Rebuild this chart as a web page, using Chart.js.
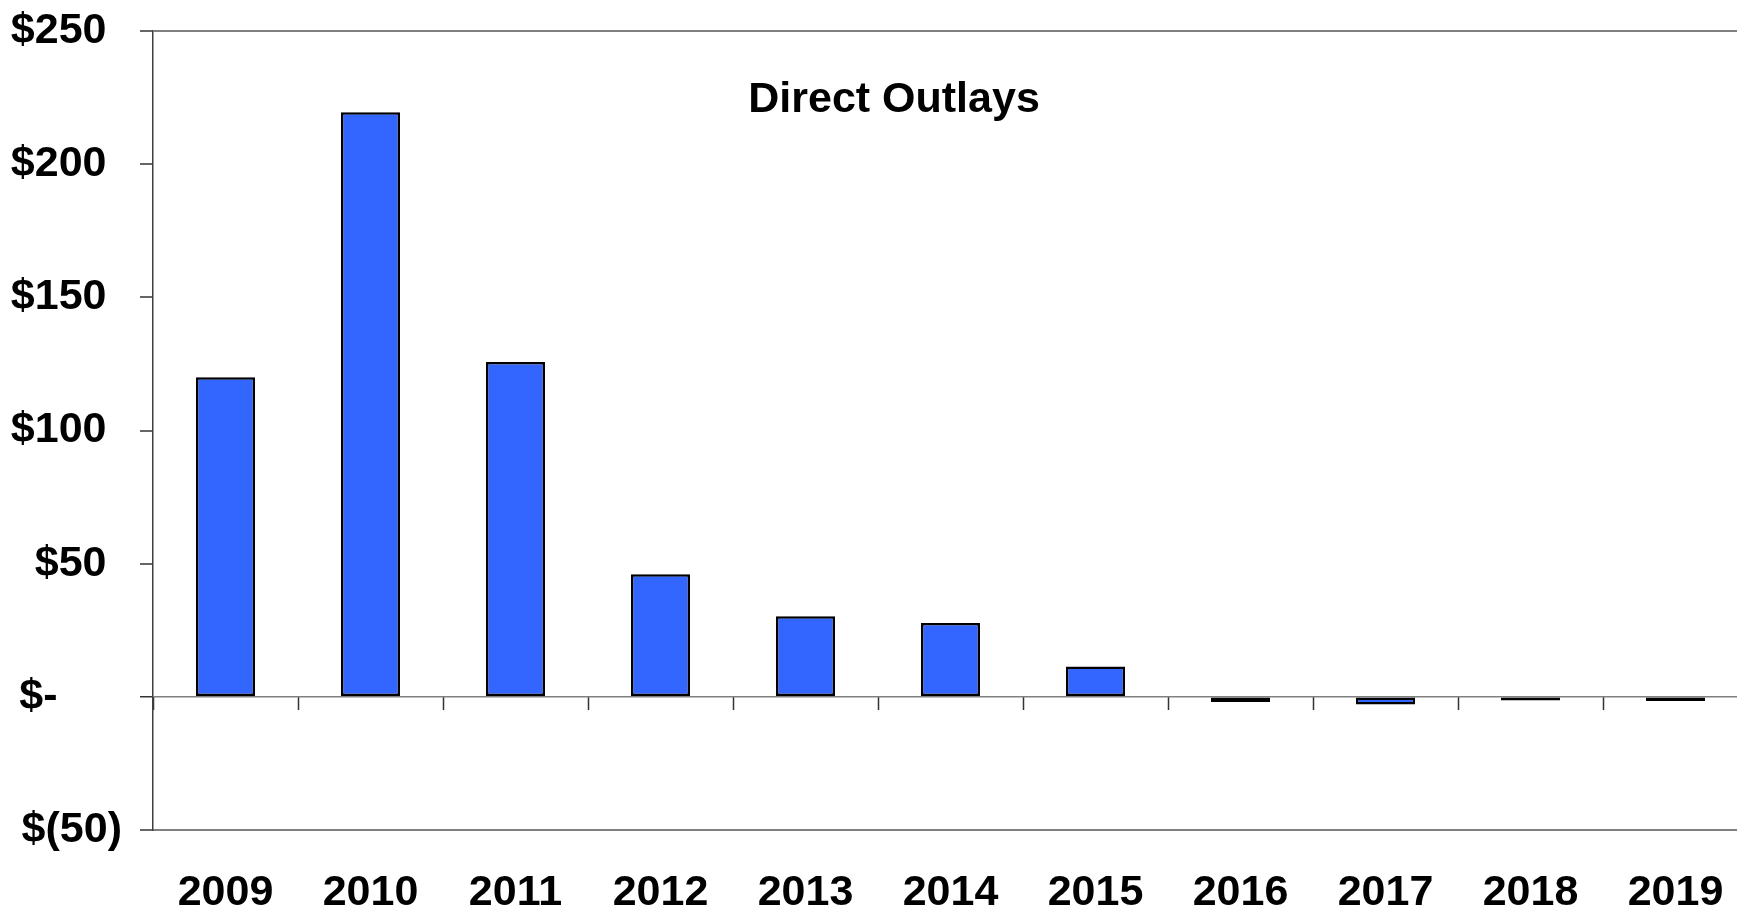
<!DOCTYPE html>
<html>
<head>
<meta charset="utf-8">
<script src="https://cdn.jsdelivr.net/npm/chart.js@4/dist/chart.umd.min.js"></script>
<style>
  html, body { margin: 0; padding: 0; background: #ffffff; overflow: hidden; }
  #wrap { width: 1760px; height: 908px; }
</style>
</head>
<body>
<div id="wrap"><canvas id="c" width="1760" height="908"></canvas></div>
<script>
// ---- data ----
const years = ['2009', '2010', '2011', '2012', '2013', '2014', '2015', '2016', '2017', '2018', '2019'];
const outlays = [120, 219.5, 125.7, 46, 30.3, 27.7, 11.4, -1.9, -2.9, -1.4, -1.6];
const yTickValues = [-50, 0, 50, 100, 150, 200, 250];
const yTickLabels = ['$(50)', '$-\u2002\u2002\u2002', '$50 \u200A', '$100 \u200A', '$150 \u200A', '$200 \u200A', '$250 \u200A'];
const chartTitle = 'Direct Outlays';
// ---------------

const FONT = '"Liberation Sans", Arial, Helvetica, sans-serif';
const FSIZE = 43;
Chart.defaults.font.family = FONT;

const titlePlugin = {
  id: 'insideTitle',
  afterDraw(chart) {
    const a = chart.chartArea;
    const ctx = chart.ctx;
    ctx.save();
    ctx.font = 'bold ' + FSIZE + 'px ' + FONT;
    ctx.fillStyle = '#000';
    ctx.textAlign = 'center';
    ctx.textBaseline = 'middle';
    ctx.fillText(chartTitle, a.left + 0.4646 * (a.right - a.left), a.top + 69);
    ctx.restore();
  }
};

const specialLines = [250, 0, -50];

new Chart(document.getElementById('c'), {
  type: 'bar',
  data: {
    labels: years,
    datasets: [{
      label: chartTitle,
      data: outlays,
      xAxisID: 'x',
      yAxisID: 'y',
      backgroundColor: '#3366FF',
      borderColor: '#000000',
      borderWidth: 2.5,
      borderSkipped: false,
      categoryPercentage: 1.0,
      barPercentage: 0.407
    }]
  },
  options: {
    responsive: false,
    animation: false,
    devicePixelRatio: 1,
    layout: { padding: { top: 31, right: 12, left: 0, bottom: 0 } },
    plugins: {
      legend: { display: false },
      title: { display: false },
      tooltip: { enabled: false }
    },
    scales: {
      x: {
        type: 'category',
        axis: 'x',
        position: 'bottom',
        offset: true,
        grid: { display: false, drawTicks: false },
        border: { display: true, color: '#808080', width: 2 },
        ticks: {
          color: '#000',
          padding: 42,
          maxRotation: 0,
          autoSkip: false,
          font: { size: FSIZE, weight: 'bold', lineHeight: 1.0 }
        },
        afterFit(s) { s.height = 78; s.paddingLeft = 0; s.paddingRight = 0; }
      },
      x2: {
        type: 'category',
        axis: 'x',
        labels: years,
        position: { y: 0 },
        offset: true,
        grid: {
          display: true,
          drawOnChartArea: false,
          drawTicks: true,
          tickLength: 13,
          tickColor: '#333333',
          tickWidth: 1.5,
          offset: true
        },
        border: { display: false },
        ticks: { display: false }
      },
      y: {
        type: 'linear',
        position: 'left',
        min: -50,
        max: 250,
        afterBuildTicks(s) { s.ticks = yTickValues.map(v => ({ value: v })); },
        grid: {
          drawOnChartArea: true,
          drawTicks: true,
          tickLength: 13,
          color: (ctx) => (ctx.tick && specialLines.includes(ctx.tick.value)) ? '#808080' : 'rgba(0,0,0,0)',
          lineWidth: (ctx) => (ctx.tick && ctx.tick.value === 0) ? 1.5 : 2,
          tickColor: '#333333',
          tickWidth: 1.5
        },
        border: { display: true, color: '#404040', width: 1.5 },
        ticks: {
          color: '#000',
          padding: 18,
          font: { size: FSIZE, weight: 'bold', lineHeight: 1.0 },
          callback: (v) => {
            const i = yTickValues.indexOf(v);
            return i >= 0 ? yTickLabels[i] : '';
          }
        },
        afterFit(s) { s.width = 153; s.paddingTop = 0; s.paddingBottom = 0; }
      }
    }
  },
  plugins: [titlePlugin]
});
</script>
</body>
</html>
